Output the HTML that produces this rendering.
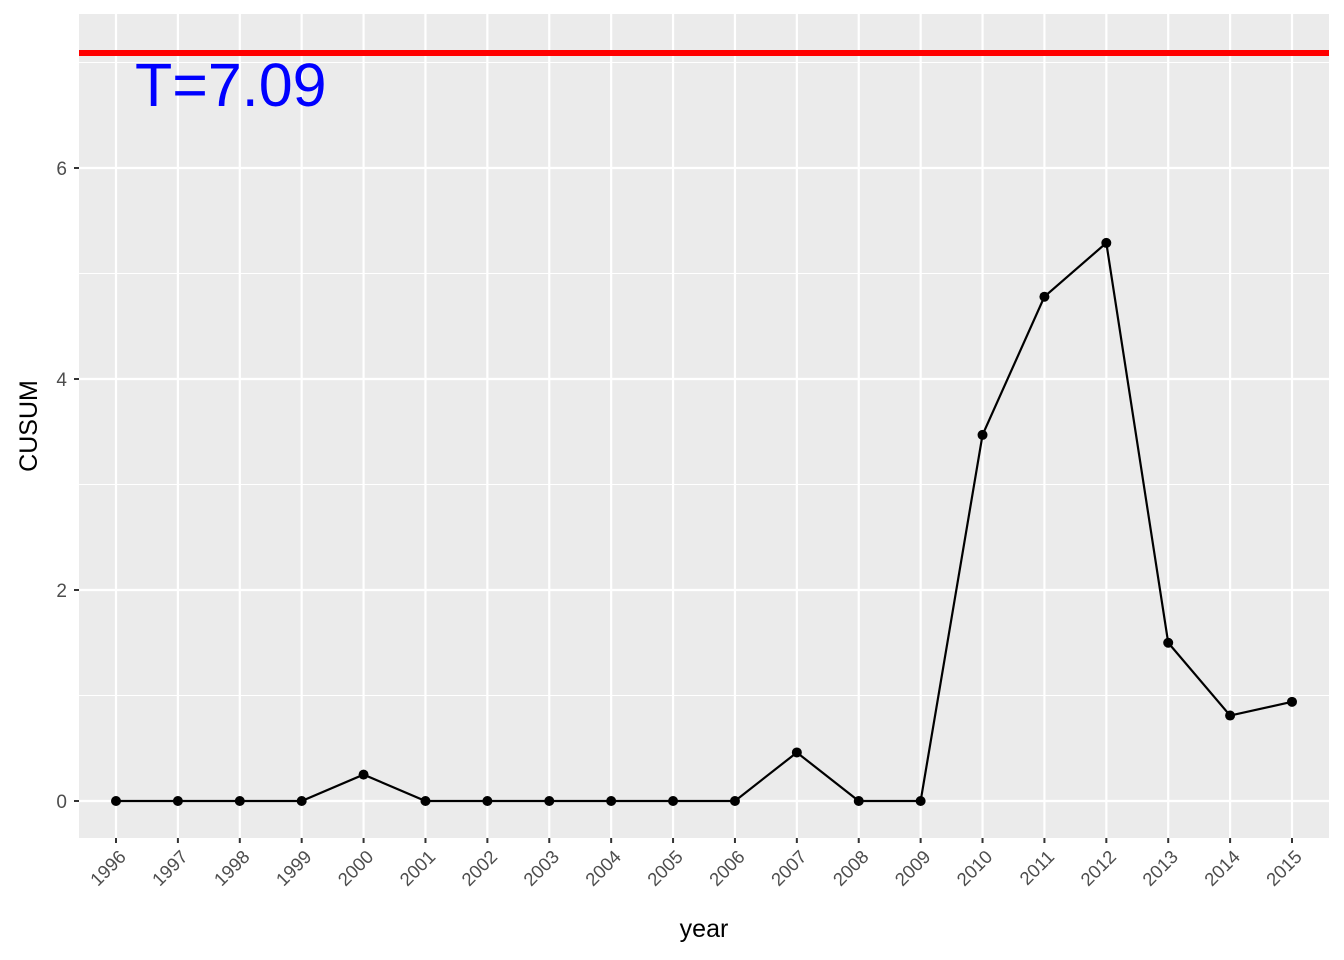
<!DOCTYPE html>
<html><head><meta charset="utf-8"><style>body{margin:0;background:#fff}svg{display:block;font-family:"Liberation Sans",sans-serif}</style></head>
<body>
<svg id="c" width="1344" height="960"></svg>
<script>
const years=["1996","1997","1998","1999","2000","2001","2002","2003","2004","2005","2006","2007","2008","2009","2010","2011","2012","2013","2014","2015"];
const cusum=[0,0,0,0,0.25,0,0,0,0,0,0,0.46,0,0,3.47,4.78,5.29,1.50,0.81,0.94];
const yTicks=[0,2,4,6];
const yMinor=[1,3,5,7];
const threshold=7.09;
const thresholdLabel="T=7.09";
const NS="http://www.w3.org/2000/svg";
const svg=document.getElementById('c');
const L=79,R=1329,T=14,B=838;
const xs=i=>116+i*(1292-116)/(years.length-1);
const ys=v=>801-v*105.5;
function mk(t,a,p){const e=document.createElementNS(NS,t);for(const k in a)e.setAttribute(k,a[k]);(p||svg).appendChild(e);return e;}
const bg=mk('rect',{x:L,y:T,width:R-L,height:B-T,fill:'#ebebeb'});


yMinor.forEach(v=>{const l=mk('line',{x1:L,x2:R,y1:ys(v),y2:ys(v),stroke:'#fff','stroke-width':1});

});
yTicks.forEach(v=>{const l=mk('line',{x1:L,x2:R,y1:ys(v),y2:ys(v),stroke:'#fff','stroke-width':2.2});


const tk=mk('line',{x1:L-5,x2:L,y1:ys(v),y2:ys(v),stroke:'#333','stroke-width':2});


const t=mk('text',{x:L-12,y:ys(v)+7,'text-anchor':'end','font-size':19,fill:'#4d4d4d'});t.textContent=v;

});
years.forEach((y,i)=>{const x=xs(i);
const l=mk('line',{x1:x,x2:x,y1:T,y2:B,stroke:'#fff','stroke-width':2.2});


const tk=mk('line',{x1:x,x2:x,y1:B,y2:B+5,stroke:'#333','stroke-width':2});


const t=mk('text',{x:x+11,y:B+20,'text-anchor':'end','font-size':18.5,fill:'#4d4d4d',transform:`rotate(-45 ${x+11} ${B+20})`});t.textContent=y;

});
const hl=mk('line',{x1:L,x2:R,y1:ys(threshold),y2:ys(threshold),stroke:'#ff0000','stroke-width':6});


const tl=mk('text',{x:135,y:106,'font-size':61,fill:'#0000ff'});tl.textContent=thresholdLabel;


const pl=mk('polyline',{points:cusum.map((v,i)=>xs(i)+','+ys(v)).join(' '),fill:'none',stroke:'#000','stroke-width':2.2});


cusum.forEach((v,i)=>{const c=mk('circle',{cx:xs(i),cy:ys(v),r:5,fill:'#000'});

});
const xt=mk('text',{x:(L+R)/2,y:937,'text-anchor':'middle','font-size':25,fill:'#000'});xt.textContent='year';


const yt=mk('text',{x:37,y:(T+B)/2,'text-anchor':'middle','font-size':25,fill:'#000',transform:`rotate(-90 37 ${(T+B)/2})`});yt.textContent='CUSUM';


</script>
</body></html>
